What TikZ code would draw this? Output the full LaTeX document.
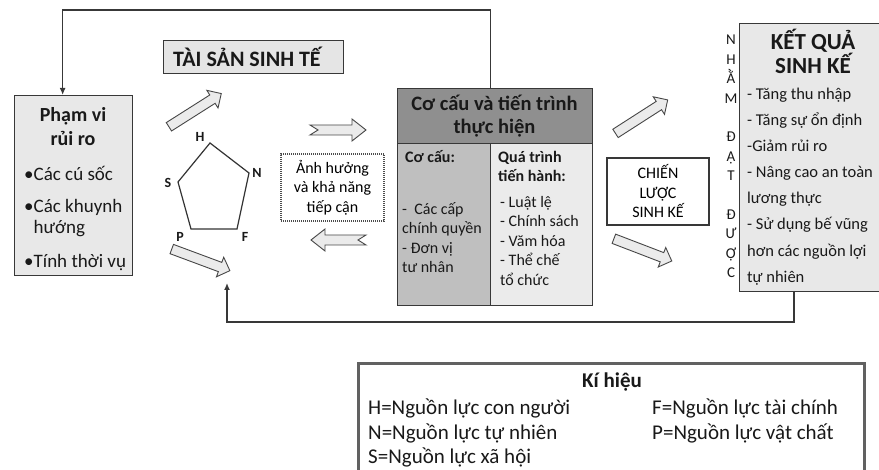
\documentclass[tikz,border=0pt]{standalone}
\usepackage{fontspec}
\setmainfont{Carlito}
\usetikzlibrary{shapes.arrows,arrows.meta}

\newcommand{\fTitre}{\fontsize{20}{24}\selectfont\bfseries}
\newcommand{\fItem}{\fontsize{19}{21}\selectfont}
\newcommand{\fCol}{\fontsize{16}{19.5}\selectfont}
\newcommand{\fLeg}{\fontsize{21}{24}\selectfont}

\begin{document}
\begin{tikzpicture}[x=1pt,y=-1pt,
  boite/.style={draw=black!78, line width=1.3pt, fill=black!9, inner sep=0pt, anchor=north west},
  txt/.style={inner sep=0pt, text=black!90},
  lien/.style={draw=black!78, line width=1.3pt},
  fleche/.style={single arrow, draw=black!72, line width=0.9pt, fill=black!8,
    minimum height=62pt, inner xsep=0pt, inner ysep=4.5pt,
    single arrow head extend=5.5pt},
  encoche/.style={draw=black!72, line width=0.9pt, fill=black!8},
  lettre/.style={txt, font=\fontsize{14}{14}\selectfont\bfseries}]
\clip (0,0) rectangle (879,470);
\fill[white] (0,0) rectangle (879,470);

  % Pham vi rui ro
\node[boite, minimum width=118pt, minimum height=180pt] (rui) at (14,95) {};
\node[txt, font=\fTitre, align=center] (ruiT) at (73,127) {Phạm vi\\rủi ro};
\node[txt, font=\fItem, anchor=west] (soc) at (24,173) {•Các cú sốc};
\node[txt, font=\fItem, anchor=west, align=left] (khuynh) at (24,218.5) {•Các khuynh\\\hphantom{•}hướng};
\node[txt, font=\fItem, anchor=west] (thoivu) at (24,263) {•Tính thời vụ};

  % Tai san sinh te
\node[boite, fill=black!10, minimum width=180pt, minimum height=33pt] (ts) at (163,40) {};
\node[txt, font=\fontsize{22}{24}\selectfont\bfseries, anchor=west] (tsT) at (173,57) {TÀI SẢN SINH TẾ};

  % Ngu giac
\coordinate (vH) at (210,143);
\coordinate (vN) at (249,173);
\coordinate (vF) at (237,229);
\coordinate (vP) at (191,229);
\coordinate (vS) at (178,182);
\draw[line width=1.2pt, black!80] (vH) -- (vN) -- (vF) -- (vP) -- (vS) -- cycle;
\node[lettre] (H) at (200,137) {H};
\node[lettre] (N) at (257,173) {N};
\node[lettre] (S) at (168,183) {S};
\node[lettre] (P) at (180,237) {P};
\node[lettre] (F) at (245,237) {F};

  % Fleches
\node[fleche, rotate=32.4] (ar1) at (193,111.5) {};
\node[fleche, rotate=-20.4] (ar2) at (198.5,259) {};
\node[fleche, rotate=32.7] (ar3) at (639.5,118) {};
\node[fleche, rotate=-21] (ar4) at (640.5,249) {};
\filldraw[encoche] (310,125) -- (352,125) -- (352,119) -- (366,130) -- (352,141)
  -- (352,135) -- (310,135) -- (318,130) -- cycle;
\filldraw[encoche] (366,235) -- (325,235) -- (325,229) -- (311,240) -- (325,251)
  -- (325,245) -- (366,245) -- (358,240) -- cycle;

  % Anh huong
\node[draw=black!70, line width=1.2pt, dash pattern=on 1pt off 1pt, fill=white,
  minimum width=103pt, minimum height=67pt, align=center, font=\fCol, inner sep=0pt]
  (anh) at (332.5,187.5) {Ảnh hưởng\\và khả năng\\tiếp cận};

  % Co cau va tien trinh
\node[boite, fill=black!44, minimum width=195pt, minimum height=55pt] (hdr) at (397,88) {};
\node[boite, fill=black!25, minimum width=93pt, minimum height=162pt] (cocau) at (397,143) {};
\node[boite, fill=black!8, minimum width=102pt, minimum height=162pt] (qtrinh) at (490,143) {};
\node[txt, font=\fontsize{20.5}{23}\selectfont\bfseries, align=center] (hdrT) at (494.5,116.5)
  {Cơ cấu và tiến trình\\thực hiện};
\node[txt, font=\fCol\bfseries, anchor=west] (ccT) at (405,157) {Cơ cấu:};
\node[txt, font=\fCol, anchor=west, align=left] (ccL) at (402,237.5)
  {-~ Các cấp\\chính quyền\\- Đơn vị\\tư nhân};
\node[txt, font=\fontsize{16}{19}\selectfont\bfseries, anchor=west, align=left] (qtT) at (498,166.5)
  {Quá trình\\tiến hành:};
\node[txt, font=\fCol, anchor=west, align=left] (qtL) at (500,241)
  {- Luật lệ\\- Chính sách\\- Văm hóa\\- Thể chế\\tổ chức};

  % Chien luoc
\node[draw=black!78, line width=1.3pt, fill=white, minimum width=102pt, minimum height=67pt,
  align=center, font=\fCol, inner sep=0pt] (cl) at (658,191.5) {CHIẾN\\LƯỢC\\SINH KẾ};

  % Nham dat duoc
\node[txt, align=center, font=\fontsize{15}{19.4}\selectfont] (nham) at (731,156.5)
  {N\\H\\Ằ\\M\\\mbox{}\\Đ\\Ạ\\T\\\mbox{}\\Đ\\Ư\\Ợ\\C};

  % Ket qua sinh ke
\node[boite, minimum width=160pt, minimum height=268pt] (kq) at (739,23) {};
\node[txt, font=\fontsize{23}{23}\selectfont\bfseries, align=center] (kqT) at (813,51.5)
  {KẾT QUẢ\\SINH KẾ};
\node[txt, font=\fontsize{16.5}{26.1}\selectfont, anchor=west, align=left] (kqL) at (747,186.5)
  {- Tăng thu nhập\\- Tăng sự ổn định\\-Giảm rủi ro\\- Nâng cao an toàn\\lương thực\\%
   - Sử dụng bế vũng\\hơn các nguồn lợi\\tự nhiên};

  % Vong phan hoi
\coordinate (dich) at (227,283);
\draw[lien, -{Latex[length=7pt,width=6pt]}] ([xshift=-4.5pt]hdr.north) -- ++(0,-78)
  -| ([xshift=-11pt]rui.north);
\draw[lien, -{Latex[length=7pt,width=6pt]}] (794,291) |- (dich |- 0,322) -- (dich);

  % Ki hieu
\node[draw=black!62, line width=2.6pt, fill=white, inner sep=0pt, anchor=north west,
  minimum width=506pt, minimum height=130pt] (kh) at (357,362) {};
\node[txt, font=\fLeg\bfseries] (khT) at (612,382) {Kí hiệu};
\node[txt, font=\fLeg, anchor=west] (kH) at (368,408) {H=Nguồn lực con người};
\node[txt, font=\fLeg, anchor=west] (kN) at (368,433) {N=Nguồn lực tự nhiên};
\node[txt, font=\fLeg, anchor=west] (kS) at (368,457) {S=Nguồn lực xã hội};
\node[txt, font=\fLeg, anchor=west] (kF) at (652,408) {F=Nguồn lực tài chính};
\node[txt, font=\fLeg, anchor=west] (kP) at (652,433) {P=Nguồn lực vật chất};
\end{tikzpicture}
\end{document}
